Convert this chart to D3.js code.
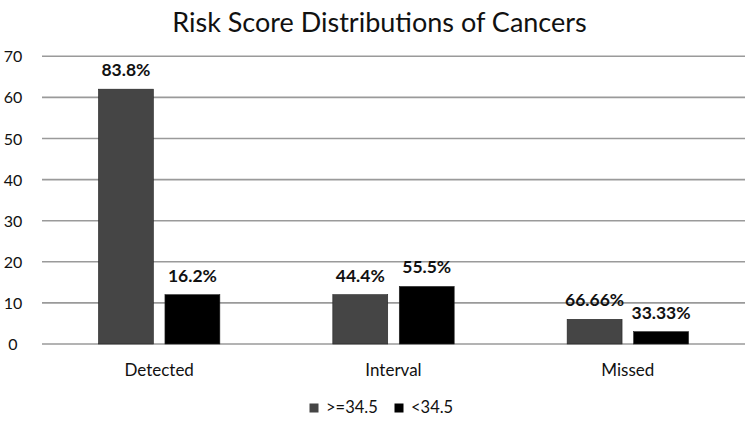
<!DOCTYPE html>
<html><head><meta charset="utf-8">
<script src="https://cdn.jsdelivr.net/npm/d3@7"></script>
<style>body{margin:0;background:#fff}svg{display:block}</style>
</head><body>
<script>
const categories = ["Detected", "Interval", "Missed"];
const seriesNames = [">=34.5", "<34.5"];
const seriesHigh = [62, 12, 6];
const seriesLow = [12, 14, 3];
const labelsHigh = ["83.8%", "44.4%", "66.66%"];
const labelsLow = ["16.2%", "55.5%", "33.33%"];
const yTicks = [0, 10, 20, 30, 40, 50, 60, 70];
const colors = ["#454545", "#000000"];

const W = 750, H = 422;
const font = "Lato, 'Open Sans', sans-serif";
const svg = d3.select("body").append("svg").attr("width", W).attr("height", H);

const plot = {left: 42, right: 745, top: 56.3, bottom: 344};
const y = d3.scaleLinear().domain([0, 70]).range([plot.bottom, plot.top]);
const x0 = d3.scaleBand().domain(categories).range([plot.left, plot.right]).padding(0);
const bw = x0.bandwidth();
const groupW = bw * 0.518;
const x1 = d3.scaleBand().domain(seriesNames)
  .range([(bw - groupW) / 2, (bw + groupW) / 2]).paddingInner(0.174).paddingOuter(0);

svg.append("text").attr("x", 379.5).attr("y", 32).attr("text-anchor", "middle")
  .attr("font-family", font).attr("font-size", 27).attr("fill", "#111")
  .text("Risk Score Distributions of Cancers");

// gridlines
svg.append("g").selectAll("line").data(yTicks).join("line")
  .attr("x1", plot.left).attr("x2", plot.right)
  .attr("y1", d => y(d)).attr("y2", d => y(d))
  .attr("stroke", "#9a9a9a").attr("stroke-width", 1.6);

// y labels
svg.append("g").selectAll("text").data(yTicks).join("text")
  .attr("x", 13).attr("y", d => y(d) + 6).attr("text-anchor", "middle")
  .attr("font-family", font).attr("font-size", 16).attr("fill", "#111")
  .text(d => d);

const rows = categories.map((c, i) => ({
  cat: c,
  vals: [
    {s: seriesNames[0], v: seriesHigh[i], lab: labelsHigh[i], col: colors[0]},
    {s: seriesNames[1], v: seriesLow[i], lab: labelsLow[i], col: colors[1]}
  ]
}));

const g = svg.append("g").selectAll("g").data(rows).join("g")
  .attr("transform", d => `translate(${x0(d.cat)},0)`);
g.selectAll("rect").data(d => d.vals).join("rect")
  .attr("x", d => x1(d.s)).attr("width", x1.bandwidth())
  .attr("y", d => y(d.v)).attr("height", d => y(0) - y(d.v))
  .attr("fill", d => d.col).attr("stroke", "#222").attr("stroke-width", 0.6);
g.selectAll("text").data(d => d.vals).join("text")
  .attr("x", d => x1(d.s) + x1.bandwidth() / 2).attr("y", d => y(d.v) - 13)
  .attr("text-anchor", "middle").attr("font-family", font).attr("font-weight", "bold")
  .attr("font-size", 17.5).attr("fill", "#111").text(d => d.lab);

// category labels
svg.append("g").selectAll("text").data(categories).join("text")
  .attr("x", d => x0(d) + bw / 2).attr("y", 376).attr("text-anchor", "middle")
  .attr("font-family", font).attr("font-size", 17).attr("fill", "#111").text(d => d);

// legend
const leg = svg.append("g");
const legX = [309.5, 394.5];
seriesNames.forEach((s, i) => {
  leg.append("rect").attr("x", legX[i]).attr("y", 403.5).attr("width", 9).attr("height", 9)
    .attr("fill", colors[i]);
  leg.append("text").attr("x", legX[i] + 16.5).attr("y", 413)
    .attr("font-family", font).attr("font-size", 16.5).attr("fill", "#111").text(s);
});
</script>
</body></html>
